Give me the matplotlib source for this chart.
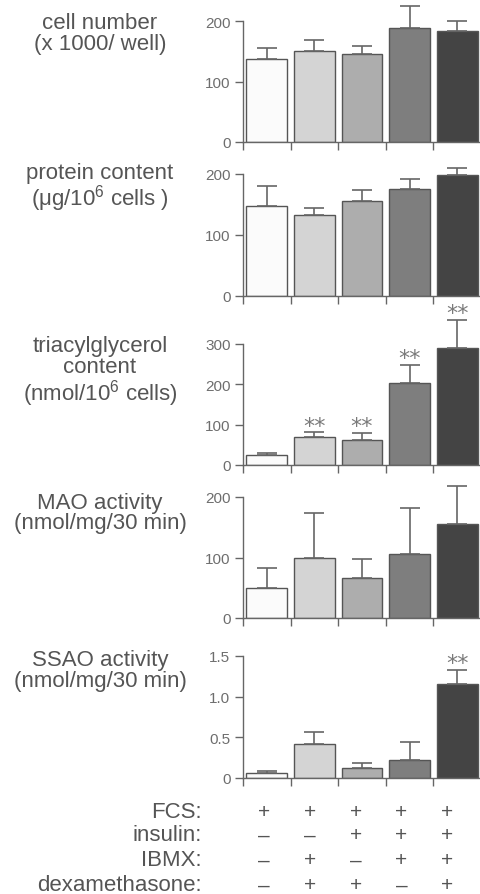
import matplotlib
matplotlib.use("Agg")
import matplotlib.pyplot as plt
from matplotlib.transforms import blended_transform_factory

plt.rcParams['font.family'] = ['Liberation Sans', 'DejaVu Sans']
plt.rcParams['mathtext.fontset'] = 'custom'
plt.rcParams['mathtext.rm'] = 'Liberation Sans'
plt.rcParams['mathtext.it'] = 'Liberation Sans'

# ---- data ----
groups = [0, 1, 2, 3, 4]
bar_colors = ['#fbfbfb', '#d4d4d4', '#adadad', '#7e7e7e', '#444444']

cell_mean = [138, 150, 146, 188, 183]
cell_sem = [18, 18, 13, 36, 17]

protein_mean = [148, 132, 155, 175, 198]
protein_sem = [32, 13, 18, 17, 12]

tag_mean = [25, 70, 63, 204, 290]
tag_sem = [5, 11, 17, 44, 70]
tag_sig = [False, True, True, True, True]

mao_mean = [50, 100, 66, 105, 155]
mao_sem = [33, 73, 32, 77, 63]

ssao_mean = [0.06, 0.42, 0.12, 0.22, 1.15]
ssao_sem = [0.02, 0.15, 0.06, 0.22, 0.18]
ssao_sig = [False, False, False, False, True]

labels = [
    "cell number\n(x 1000/ well)",
    "protein content\n(\u03bcg/10$^{6}$ cells )",
    "triacylglycerol\ncontent\n(nmol/10$^{6}$ cells)",
    "MAO activity\n(nmol/mg/30 min)",
    "SSAO activity\n(nmol/mg/30 min)",
]
yticks = [[0, 100, 200], [0, 100, 200], [0, 100, 200, 300], [0, 100, 200], [0, 0.5, 1.0, 1.5]]
yticklabels = [["0", "100", "200"], ["0", "100", "200"], ["0", "100", "200", "300"],
               ["0", "100", "200"], ["0", "0.5", "1.0", "1.5"]]

treat_names = ["FCS:", "insulin:", "IBMX:", "dexamethasone:"]
treat_signs = [
    ["+", "+", "+", "+", "+"],
    ["\u2013", "\u2013", "+", "+", "+"],
    ["\u2013", "+", "\u2013", "+", "+"],
    ["\u2013", "+", "+", "\u2013", "+"],
]

means = [cell_mean, protein_mean, tag_mean, mao_mean, ssao_mean]
sems = [cell_sem, protein_sem, tag_sem, mao_sem, ssao_sem]
sigs = [None, None, tag_sig, None, ssao_sig]

# ---- layout (pixels) ----
W, H = 481, 895
fig = plt.figure(figsize=(W / 100, H / 100), dpi=100)
fig.patch.set_facecolor('white')

panel_px = [(22, 143), (175, 297), (345, 466), (498, 619), (657, 779)]
label_y = [34, 188.5, 372.5, 513.5, 671.5]
ax_left, ax_right = 243, 481

text_col = '#555555'
tick_col = '#6e6e6e'
axis_col = '#666666'

axes = []
for k in range(5):
    top, bot = panel_px[k]
    ax = fig.add_axes([ax_left / W, 1 - bot / H, (ax_right - ax_left) / W, (bot - top) / H])
    axes.append(ax)
    ax.bar(groups, means[k], width=0.86, color=bar_colors, edgecolor='#555555',
           linewidth=1.0, zorder=2)
    eb = ax.errorbar(groups, means[k], yerr=[[0] * 5, sems[k]], fmt='none',
                     ecolor='#666666', elinewidth=1.2, capsize=7, capthick=1.2, zorder=3)
    for art in eb.lines[1] + eb.lines[2]:
        art.set_clip_on(False)
    ax.set_xlim(-0.5, 4.5)
    ax.set_ylim(0, yticks[k][-1])
    for s in ['top', 'right']:
        ax.spines[s].set_visible(False)
    for s in ['left', 'bottom']:
        ax.spines[s].set_color(axis_col)
        ax.spines[s].set_linewidth(1.0)
    ax.set_xticks([-0.5, 0.5, 1.5, 2.5, 3.5])
    ax.set_xticklabels([])
    ax.set_yticks(yticks[k])
    ax.set_yticklabels(yticklabels[k])
    ax.tick_params(axis='both', length=6, width=1.0, color=axis_col, direction='out')
    ax.tick_params(axis='y', labelsize=11, labelcolor=tick_col, pad=3)
    ax.patch.set_visible(False)
    if sigs[k] is not None:
        for i in groups:
            if sigs[k][i]:
                ax.annotate('**', xy=(i, means[k][i] + sems[k][i]), xytext=(0, -2.5),
                            textcoords='offset points', ha='center', va='bottom',
                            fontsize=16, color='#7a7a7a', family='DejaVu Sans',
                            annotation_clip=False)
    fig.text(100 / W, 1 - label_y[k] / H, labels[k], ha='center', va='center',
             fontsize=16, color=text_col, linespacing=1.0)

# ---- treatment table ----
row_y = [813, 836, 861, 886]
tr = blended_transform_factory(axes[-1].transData, fig.transFigure)
for r in range(4):
    fig.text(202 / W, 1 - row_y[r] / H, treat_names[r], ha='right', va='center',
             fontsize=16, color=text_col)
    for i in groups:
        fig.text(i * 0.963 - 0.06, 1 - row_y[r] / H, treat_signs[r][i], transform=tr,
                 ha='center', va='center', fontsize=15, color=text_col)

fig.savefig('out.png', dpi=100)
